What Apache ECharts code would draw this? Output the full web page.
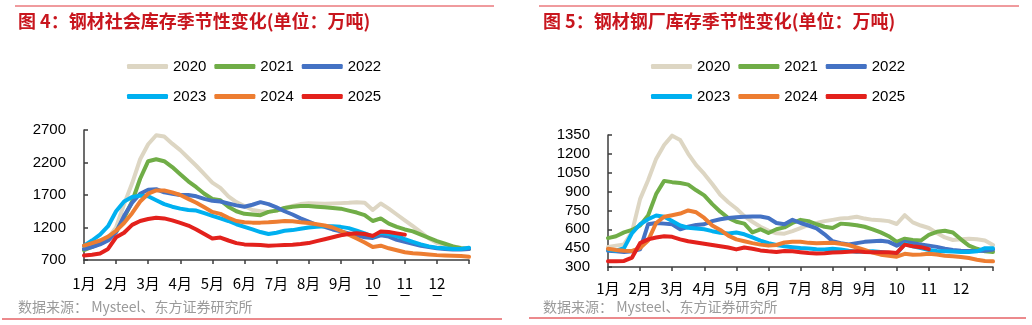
<!DOCTYPE html>
<html>
<head>
<meta charset="utf-8">
<script src="https://cdn.jsdelivr.net/npm/echarts@6/dist/echarts.min.js"></script>
<style>
  html, body { margin: 0; padding: 0; background: #fff; }
  #chart { width: 1032px; height: 325px; }
</style>
</head>
<body>
<div id="chart"></div>
<script>
// Weekly samples, one every quarter month, starting at 1 Jan.
const WEEK_STEP = 0.25;
const years = ['2020', '2021', '2022', '2023', '2024', '2025'];
const yearColors = ['#DDD6C3', '#70AD47', '#4472C4', '#00B0F0', '#ED7D31', '#E3211C'];
const monthLabels = ['1月', '2月', '3月', '4月', '5月', '6月', '7月', '8月', '9月', '10\n月', '11\n月', '12\n月', ''];

// 钢材社会库存 (万吨)
const social2020 = [880, 920, 960, 1040, 1200, 1560, 1880, 2250, 2480, 2620, 2600, 2490, 2390, 2270, 2150, 2020, 1890, 1810, 1680, 1590, 1530, 1470, 1450, 1440, 1460, 1500, 1530, 1560, 1575, 1570, 1565, 1570, 1575, 1580, 1590, 1580, 1470, 1570, 1490, 1400, 1310, 1220, 1130, 1030, 960, 930, 910, 890, 880];
const social2021 = [850, 900, 950, 1030, 1130, 1350, 1600, 1950, 2220, 2250, 2220, 2130, 2020, 1910, 1820, 1720, 1640, 1620, 1520, 1450, 1410, 1400, 1390, 1440, 1460, 1500, 1520, 1530, 1530, 1520, 1510, 1500, 1490, 1460, 1430, 1390, 1300, 1340, 1260, 1210, 1170, 1140, 1090, 1040, 990, 950, 910, 880, 870];
const social2022 = [870, 900, 940, 1000, 1130, 1380, 1580, 1720, 1780, 1790, 1740, 1720, 1700, 1700, 1680, 1640, 1610, 1600, 1570, 1540, 1520, 1550, 1590, 1560, 1510, 1450, 1400, 1340, 1290, 1240, 1210, 1170, 1140, 1110, 1080, 1050, 1040, 1080, 1060, 1010, 980, 950, 920, 900, 880, 870, 860, 860, 870];
const social2023 = [920, 1000, 1090, 1220, 1450, 1600, 1670, 1690, 1680, 1620, 1560, 1520, 1490, 1470, 1460, 1420, 1380, 1340, 1300, 1250, 1210, 1170, 1130, 1100, 1120, 1150, 1160, 1180, 1200, 1210, 1220, 1220, 1210, 1190, 1150, 1110, 1060, 1120, 1100, 1070, 1020, 980, 940, 910, 890, 880, 870, 870, 890];
const social2024 = [920, 960, 1000, 1060, 1150, 1270, 1420, 1600, 1720, 1770, 1770, 1740, 1700, 1640, 1580, 1510, 1440, 1410, 1350, 1300, 1280, 1275, 1275, 1280, 1290, 1300, 1295, 1280, 1270, 1250, 1230, 1200, 1150, 1090, 1030, 970, 900, 920, 880, 850, 820, 805, 795, 785, 775, 770, 765, 760, 750];
const social2025 = [770, 780, 800, 870, 1050, 1120, 1240, 1300, 1330, 1350, 1340, 1310, 1270, 1230, 1170, 1100, 1030, 1045, 1000, 960, 940, 935, 930, 920, 925, 930, 935, 945, 960, 990, 1020, 1050, 1080, 1100, 1110, 1100, 1070, 1140, 1130, 1110, 1090];

// 钢材钢厂库存 (万吨)
const mill2020 = [460, 470, 480, 580, 840, 990, 1160, 1270, 1345, 1310, 1200, 1110, 1040, 960, 875, 815, 765, 705, 660, 620, 590, 568, 565, 585, 610, 635, 650, 665, 675, 685, 690, 700, 685, 675, 672, 665, 642, 712, 655, 630, 610, 570, 535, 515, 520, 525, 520, 510, 475];
const mill2021 = [530, 545, 575, 595, 630, 710, 880, 985, 975, 968, 955, 910, 870, 800, 740, 690, 660, 645, 575, 600, 570, 600, 615, 650, 675, 665, 640, 620, 610, 645, 640, 632, 620, 600, 575, 545, 500, 525, 515, 510, 555, 580, 588, 575, 520, 470, 445, 425, 420];
const mill2022 = [430, 425, 420, 425, 440, 640, 650, 645, 640, 600, 620, 635, 640, 665, 680, 690, 695, 700, 702, 702, 690, 650, 640, 675, 650, 630, 608, 560, 505, 490, 480, 490, 500, 505, 508, 500, 470, 500, 490, 480, 470, 460, 445, 435, 430, 427, 427, 430, 440];
const mill2023 = [440, 430, 450, 570, 640, 680, 710, 700, 665, 630, 612, 606, 600, 585, 573, 567, 575, 560, 535, 510, 490, 475, 465, 458, 452, 448, 442, 440, 445, 440, 430, 422, 424, 426, 420, 412, 405, 485, 465, 450, 435, 428, 425, 423, 420, 420, 425, 450, 450];
const mill2024 = [445, 435, 430, 428, 450, 510, 650, 700, 712, 725, 750, 735, 690, 630, 595, 550, 520, 505, 490, 478, 470, 475, 495, 500, 500, 492, 488, 490, 493, 485, 475, 455, 435, 415, 398, 390, 382, 405, 398, 400, 406, 400, 390, 385, 380, 372, 358, 348, 345];
const mill2025 = [345, 345, 348, 375, 490, 520, 535, 545, 540, 520, 505, 495, 485, 475, 465, 455, 440, 455, 445, 432, 425, 420, 428, 425, 418, 412, 408, 410, 415, 418, 422, 425, 420, 418, 418, 417, 412, 478, 465, 458, 442];

const socialSeries = [social2020, social2021, social2022, social2023, social2024, social2025];
const millSeries = [mill2020, mill2021, mill2022, mill2023, mill2024, mill2025];

const FONT = "'Liberation Sans', 'Noto Sans CJK SC', sans-serif";
const CJK = "'Noto Sans CJK SC', 'Liberation Sans', sans-serif";
const AXIS_COLOR = '#3c3c3c';

function toPoints(values) {
  return values.map((v, i) => [i * WEEK_STEP, v]);
}

function makeLines(valuesList, axisIndex) {
  return valuesList.map((vals, k) => ({
    name: years[k],
    type: 'line',
    xAxisIndex: axisIndex,
    yAxisIndex: axisIndex,
    data: toPoints(vals),
    showSymbol: false,
    symbol: 'none',
    smooth: false,
    color: yearColors[k],
    lineStyle: { width: 4, color: yearColors[k], cap: 'round', join: 'round' },
    emphasis: { disabled: true },
    z: 2 + k
  }));
}

function xAxisCfg(gridIndex, margin) {
  return {
    type: 'value', gridIndex, min: 0, max: 12, interval: 1,
    axisLine: { show: true, lineStyle: { color: AXIS_COLOR, width: 1.5 } },
    axisTick: { show: true, inside: false, length: 4, lineStyle: { color: AXIS_COLOR, width: 1.5 } },
    splitLine: { show: false },
    axisLabel: {
      margin, color: '#000', fontSize: 15, fontFamily: CJK, lineHeight: 18,
      showMinLabel: true, showMaxLabel: true,
      formatter: v => monthLabels[Math.round(v)] || ''
    }
  };
}

function yAxisCfg(gridIndex, min, max, interval) {
  return {
    type: 'value', gridIndex, min, max, interval,
    axisLine: { show: true, lineStyle: { color: AXIS_COLOR, width: 1.5 } },
    axisTick: { show: true, inside: true, length: 4, lineStyle: { color: AXIS_COLOR, width: 1.5 } },
    splitLine: { show: false },
    axisLabel: { margin: 18, color: '#000', fontSize: 15, fontFamily: FONT, formatter: v => String(v) }
  };
}

function legendRow(names, left, top) {
  return {
    data: names, left, top, orient: 'horizontal', padding: 0,
    itemWidth: 41, itemHeight: 5, itemGap: 8, icon: 'roundRect',
    textStyle: { fontSize: 15, color: '#000', fontFamily: FONT },
    selectedMode: false
  };
}

const chart = echarts.init(document.getElementById('chart'), null, { renderer: 'canvas' });

chart.setOption({
  animation: false,
  backgroundColor: '#fff',
  title: [
    { text: '图 4：钢材社会库存季节性变化(单位：万吨)', left: 18, top: 12, padding: 0,
      textStyle: { fontSize: 18, fontWeight: 'bold', color: '#C8161E', fontFamily: CJK } },
    { text: '图 5：钢材钢厂库存季节性变化(单位：万吨)', left: 543, top: 12, padding: 0,
      textStyle: { fontSize: 18, fontWeight: 'bold', color: '#C8161E', fontFamily: CJK } }
  ],
  legend: [
    legendRow(years.slice(0, 3), 127, 59),
    legendRow(years.slice(3), 127, 89),
    legendRow(years.slice(0, 3), 651, 59),
    legendRow(years.slice(3), 651, 89)
  ],
  grid: [
    { left: 84, top: 130, width: 385, height: 130, containLabel: false },
    { left: 608, top: 135, width: 385, height: 132, containLabel: false }
  ],
  xAxis: [xAxisCfg(0, 14), xAxisCfg(1, 12)],
  yAxis: [yAxisCfg(0, 700, 2700, 500), yAxisCfg(1, 300, 1350, 150)],
  series: makeLines(socialSeries, 0).concat(makeLines(millSeries, 1)),
  graphic: [
    // page rules
    { type: 'line', shape: { x1: 15, y1: 6, x2: 494, y2: 6 }, style: { stroke: '#E0373C', lineWidth: 1 }, z: 50 },
    { type: 'line', shape: { x1: 539, y1: 6, x2: 1019, y2: 6 }, style: { stroke: '#E0373C', lineWidth: 1 }, z: 50 },
    { type: 'line', shape: { x1: 2, y1: 319, x2: 502, y2: 319 }, style: { stroke: '#D9151B', lineWidth: 1 }, z: 50 },
    { type: 'line', shape: { x1: 529, y1: 318, x2: 1026, y2: 318 }, style: { stroke: '#D9151B', lineWidth: 1 }, z: 50 },
    // band under the month labels
    { type: 'rect', shape: { x: 0, y: 296, width: 1032, height: 21 }, style: { fill: '#fff' }, z: 60 },
    // source notes
    { type: 'text', left: 18, top: 300, z: 70,
      style: { text: '数据来源： Mysteel、东方证券研究所', fill: '#9A9A9A', font: "14px 'Noto Sans CJK SC', sans-serif" } },
    { type: 'text', left: 543, top: 300, z: 70,
      style: { text: '数据来源： Mysteel、东方证券研究所', fill: '#9A9A9A', font: "14px 'Noto Sans CJK SC', sans-serif" } }
  ]
});
</script>
</body>
</html>
